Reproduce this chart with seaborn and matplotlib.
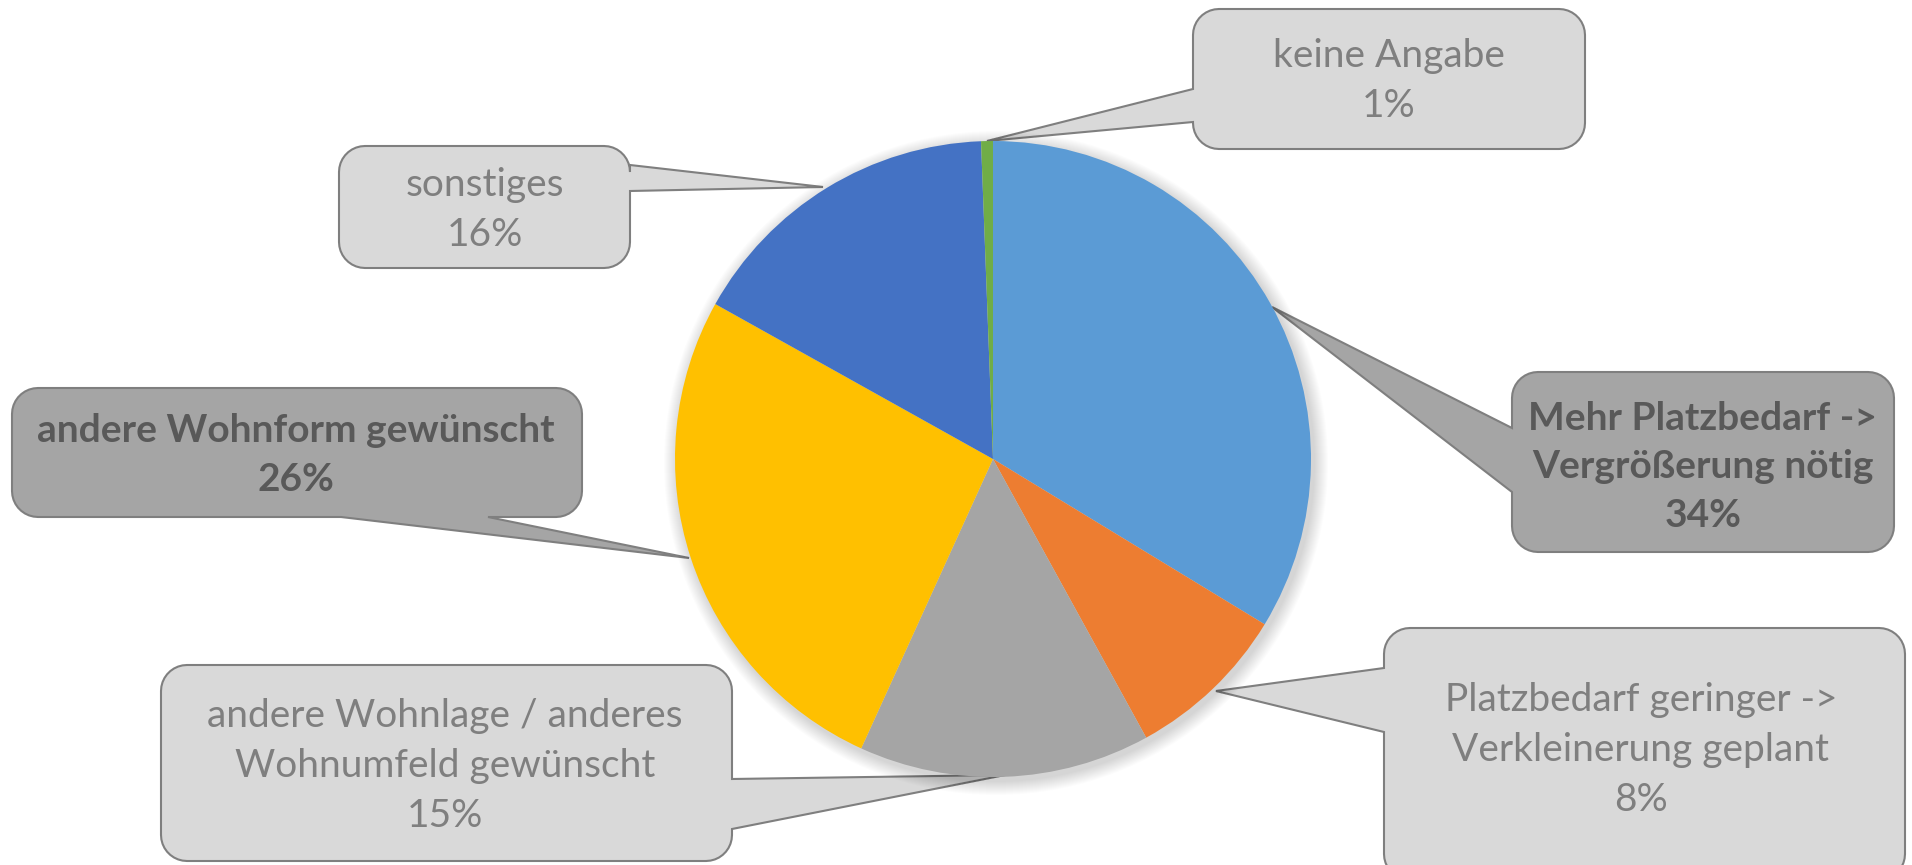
import numpy as np
import matplotlib
matplotlib.use("Agg")
import matplotlib.pyplot as plt
import seaborn as sns
from matplotlib.patches import Polygon, Circle

# Daten
kategorien = ["Mehr Platzbedarf ->\nVergrößerung nötig",
              "Platzbedarf geringer ->\nVerkleinerung geplant",
              "andere Wohnlage / anderes\nWohnumfeld gewünscht",
              "andere Wohnform gewünscht",
              "sonstiges",
              "keine Angabe"]
anteile = [33.7, 8.3, 14.8, 26.3, 16.3, 0.6]
prozent_labels = ["34%", "8%", "15%", "26%", "16%", "1%"]
hervorgehoben = [True, False, False, True, False, False]

farben = ["#5B9BD5", "#ED7D31", "#A5A5A5", "#FFC000", "#4472C4", "#70AD47"]

sns.set_theme(style="white")
plt.rcParams['font.family'] = ['Lato', 'DejaVu Sans']

W, H = 1912, 865
fig = plt.figure(figsize=(W / 100, H / 100), dpi=100)
ax = fig.add_axes([0, 0, 1, 1])

cx, cy, r = 993, 459, 318


def py(y):
    return H - y


# weicher Schatten
for k in range(14):
    ax.add_patch(Circle((cx + 3, py(cy + 4)), r + 14 - k, color='black',
                        alpha=0.012, lw=0, zorder=2))

ax.pie(anteile, colors=farben, startangle=90, counterclock=False,
       center=(cx, py(cy)), radius=r, frame=True,
       wedgeprops=dict(linewidth=0, zorder=3))
ax.set_xlim(0, W)
ax.set_ylim(0, H)
ax.set_aspect('equal')
ax.axis('off')


def callout(box, rad, side, b0, b1, tip):
    x0, y0, x1, y1 = box
    pts = []

    def arc(ccx, ccy, a0, a1):
        for t in np.linspace(np.radians(a0), np.radians(a1), 10):
            pts.append((ccx + rad * np.cos(t), ccy + rad * np.sin(t)))

    pts.append((x0 + rad, y0))
    if side == 'top':
        pts += [(b0, y0), tip, (b1, y0)]
    arc(x1 - rad, y0 + rad, -90, 0)
    if side == 'right':
        pts += [(x1, b0), tip, (x1, b1)]
    arc(x1 - rad, y1 - rad, 0, 90)
    if side == 'bottom':
        pts += [(b1, y1), tip, (b0, y1)]
    arc(x0 + rad, y1 - rad, 90, 180)
    if side == 'left':
        pts += [(x0, b1), tip, (x0, b0)]
    arc(x0 + rad, y0 + rad, 180, 270)
    return [(x, py(y)) for x, y in pts]


# Box-Geometrie in Pixeln (links, oben, rechts, unten), Seite, Basis, Spitze
boxen = [
    ((1512, 372, 1894, 552), 'left', 428, 492, (1272, 307), (1703, 467)),
    ((1384, 628, 1905, 880), 'left', 668, 732, (1216, 691), (1641, 750)),
    ((161, 665, 732, 861), 'right', 779, 829, (1005, 775), (445, 766)),
    ((12, 388, 582, 517), 'bottom', 341, 488, (689, 558), (296, 455)),
    ((339, 146, 630, 268), 'right', 165, 191, (823, 187), (485, 210)),
    ((1193, 9, 1585, 149), 'left', 89, 122, (987, 141), (1389, 81)),
]

for i, (box, side, b0, b1, tip, tpos) in enumerate(boxen):
    if hervorgehoben[i]:
        fc, tc, fw = "#A5A5A5", "#595959", "bold"
    else:
        fc, tc, fw = "#D9D9D9", "#7F7F7F", "normal"
    poly = Polygon(callout(box, 26, side, b0, b1, tip), closed=True,
                   facecolor=fc, edgecolor="#7F7F7F", lw=1.5, zorder=1)
    ax.add_patch(poly)
    ax.text(tpos[0], py(tpos[1]), kategorien[i] + "\n" + prozent_labels[i],
            ha='center', va='center', fontsize=28, color=tc,
            fontweight=fw, linespacing=1.48, zorder=5)

fig.savefig("out.png", dpi=100)
